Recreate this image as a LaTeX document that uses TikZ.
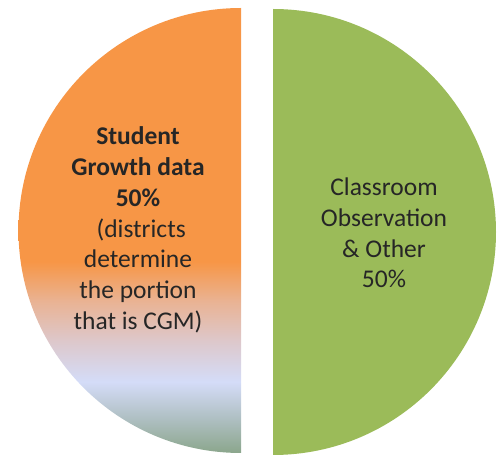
\documentclass[tikz,border=0pt]{standalone}
\usepackage{fontspec}
\setmainfont{Carlito}
\definecolor{sgOrange}{HTML}{F79646}
\definecolor{sgPeach}{HTML}{E9B394}
\definecolor{sgPink}{HTML}{DDC8CC}
\definecolor{sgLav}{HTML}{D4DCF8}
\definecolor{sgGrey}{HTML}{B0C0C4}
\definecolor{sgMoss}{HTML}{8BA68C}
\definecolor{obsGreen}{HTML}{9BBB59}
\definecolor{labelText}{HTML}{262626}
% bottom (25bp) to top (75bp) of the left slice
\pgfdeclareverticalshading{growthfade}{100bp}{%
  color(0bp)=(sgMoss); color(25bp)=(sgMoss); color(29bp)=(sgGrey);
  color(33bp)=(sgLav); color(37.5bp)=(sgPink); color(42bp)=(sgPeach);
  color(46.5bp)=(sgOrange); color(75bp)=(sgOrange); color(100bp)=(sgOrange)}
\begin{document}
\begin{tikzpicture}[x=1pt,y=1pt,
    slicetext/.style={align=center, text=labelText, inner sep=0pt,
      font=\fontsize{25.5}{30.8}\selectfont}]
    \useasboundingbox (0,0) rectangle (498,455);
    % left slice: student growth
    \shade[shading=growthfade] (241,447) arc (90:270:222.5) -- cycle;
    % right slice: observation
    \fill[obsGreen] (273,446) arc (90:-90:223) -- cycle;
    \node[slicetext] (growth) at (138,225)
      {\textbf{Student}\\\textbf{Growth data}\\\textbf{50\%}\\
       \hspace{0.25em}(districts\\determine\\the portion\\that is CGM)};
    \node[slicetext] (observation) at (384,222)
      {Classroom\\Observation\\\& Other\\50\%};
  \end{tikzpicture}
\end{document}
